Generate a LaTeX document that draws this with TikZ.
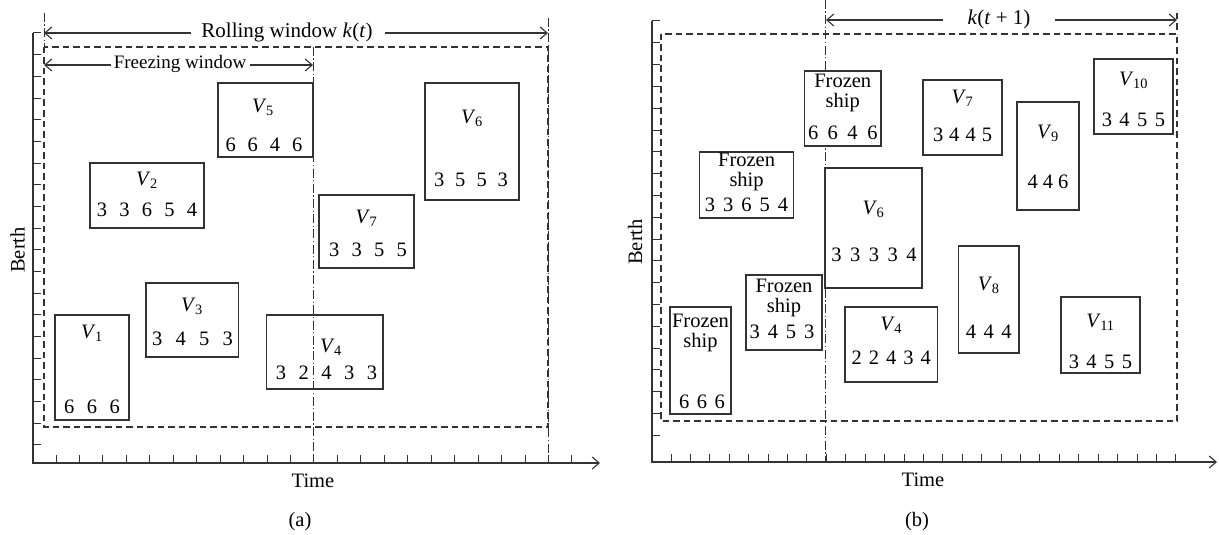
\documentclass[tikz,border=0pt]{standalone}
\usepackage{fontspec}
\setmainfont{Liberation Serif}
\usetikzlibrary{arrows.meta,fit}
\newcommand\Vs[1]{\textit{V}\kern-0.5pt\textsubscript{#1}}
\newcommand\nums[2]{{\spaceskip=#1pt\relax #2}}
\tikzset{
  ln/.style={draw=black!80, line width=1.1pt},
  tick/.style={draw=black!80, line width=1pt},
  shipbox/.style={draw=black!80, line width=1.2pt, fill=white, inner sep=0pt},
  txt/.style={inner sep=0pt, text=black, font=\fontsize{20.5}{21}\selectfont},
  smalltxt/.style={inner sep=0pt, text=black, font=\fontsize{19}{20}\selectfont},
  bigtxt/.style={inner sep=0pt, text=black, font=\fontsize{21}{22}\selectfont},
  twoline/.style={inner sep=0pt, text=black, align=center, font=\fontsize{20.5}{20}\selectfont},
  dashedln/.style={draw=black!80, line width=1.1pt, dash pattern=on 6.5pt off 4pt},
  dashdot/.style={draw=black!80, line width=1pt, dash pattern=on 9pt off 2.5pt on 1.2pt off 2.5pt},
  tip/.style={-{Straight Barb[length=7pt,width=12pt]}},
}
\begin{document}
\begin{tikzpicture}[x=1pt,y=-1pt]
\useasboundingbox (0,0) rectangle (1219,535);

% ================= panel (a) =================
\coordinate (Ltop) at (33,33);
\coordinate (Lorig) at (33,463);
\coordinate (Lxend) at (600,463);
\foreach \i in {0,...,19} \draw[tick] (33,{33+\i*21.68}) -- ++(8,0);
\foreach \i in {0,...,22} \draw[tick] ({56+\i*23.45},463) -- ++(0,-8);
\draw[ln,tip] (Ltop) -- (Lorig) -- (Lxend);

\draw[dashedln] (44,47) rectangle (548,427);
\coordinate (LdA) at (44,13);
\coordinate (LdB) at (44,47);
\draw[dashdot] (LdA) -- (LdB);
\coordinate (LrA) at (548,18);
\coordinate (LrB) at (548,463);
\draw[dashdot] (LrA) -- (LrB);

% ships (a)
\node[shipbox, fit={(218,83) (313,157)}] (a5) {};
\node[txt] (a5l) at (263,107) {\Vs{5}};
\node[txt] (a5n) at (264,145) {\nums{12}{6 6 4 6}};

\node[shipbox, fit={(425,83) (519,200)}] (a6) {};
\node[txt] (a6l) at (472,118) {\Vs{6}};
\node[txt] (a6n) at (471,180) {\nums{11}{3 5 5 3}};

\node[shipbox, fit={(90,163) (204,228)}] (a2) {};
\node[txt] (a2l) at (147,180) {\Vs{2}};
\node[txt] (a2n) at (147,210) {\nums{12.3}{3 3 6 5 4}};

\node[shipbox, fit={(319,195) (414,268)}] (a7) {};
\node[txt] (a7l) at (366.5,218) {\Vs{7}};
\node[txt] (a7n) at (368,250) {\nums{12.3}{3 3 5 5}};

\node[shipbox, fit={(146,283) (238.5,357)}] (a3) {};
\node[txt] (a3l) at (192,306) {\Vs{3}};
\node[txt] (a3n) at (192.5,339) {\nums{13.3}{3 4 5 3}};

\node[shipbox, fit={(55,315) (129,420)}] (a1) {};
\node[txt] (a1l) at (92,333) {\Vs{1}};
\node[txt] (a1n) at (92,407) {\nums{12.5}{6 6 6}};

\node[shipbox, fit={(266.5,315) (383,389)}] (a4) {};
\node[txt] (a4l) at (331,347) {\Vs{4}};
\node[txt] (a4n) at (326.5,373) {\nums{12.5}{3 2 4 3 3}};

\coordinate (LfA) at (313,47);
\coordinate (LfB) at (313,463);
\draw[dashdot] (LfA) -- (LfB);

% windows (a)
\node[bigtxt] (roll) at (287,32) {Rolling window \textit{k}(\textit{t})};
\coordinate (rollL) at (44,33);
\coordinate (rollLa) at (191,33);
\coordinate (rollR) at (548,33);
\coordinate (rollRa) at (385,33);
\draw[ln,tip] (rollLa) -- (rollL);
\draw[ln,tip] (rollRa) -- (rollR);

\node[smalltxt] (freeze) at (180,64) {Freezing window};
\coordinate (frL) at (44,65);
\coordinate (frLa) at (111,65);
\coordinate (frR) at (313,65);
\coordinate (frRa) at (250,65);
\draw[ln,tip] (frLa) -- (frL);
\draw[ln,tip] (frRa) -- (frR);

\node[txt] (timeA) at (313,481) {Time};
\node[txt, rotate=90] (berthA) at (17.5,250) {Berth};
\node[txt] (capA) at (300,522) {(a)};

% ================= panel (b) =================
\coordinate (Rtop) at (652,21);
\coordinate (Rorig) at (652,462);
\coordinate (Rxend) at (1217,462);
\foreach \i in {0,...,19} \draw[tick] (652,{21+\i*21.8}) -- ++(8,0);
\foreach \i in {0,...,26} \draw[tick] ({671+\i*19.42},462) -- ++(0,-8);
\draw[ln,tip] (Rtop) -- (Rorig) -- (Rxend);

\draw[dashedln] (661,34) rectangle (1177,421);
\coordinate (RdA) at (1177,13);
\coordinate (RdB) at (1177,34);
\draw[dashedln] (RdA) -- (RdB);
\coordinate (RfA) at (825.5,0);
\coordinate (RfB) at (825.5,462);
\draw[dashdot] (RfA) -- (RfB);

\node[shipbox, fit={(804.5,71) (881,146)}] (b1) {};
\node[twoline] (b1l) at (842.75,93) {Frozen\\ship};
\node[txt] (b1n) at (842.75,133) {\nums{9.5}{6 6 4 6}};

\node[shipbox, fit={(923,80) (1002,155)}] (b7) {};
\node[txt] (b7l) at (962.5,98) {\Vs{7}};
\node[txt] (b7n) at (962.5,135) {\nums{6}{3 4 4 5}};

\node[shipbox, fit={(1017,102) (1079,210)}] (b9) {};
\node[txt] (b9l) at (1048,133) {\Vs{9}};
\node[txt] (b9n) at (1048,182) {\nums{5}{4 4 6}};

\node[shipbox, fit={(1094,59) (1173,134)}] (b10) {};
\node[txt] (b10l) at (1133.5,80) {\Vs{10}};
\node[txt] (b10n) at (1133.5,120) {\nums{7.5}{3 4 5 5}};

\node[shipbox, fit={(699.5,152) (793.7,218)}] (b2) {};
\node[twoline] (b2l) at (746.6,172) {Frozen\\ship};
\node[txt] (b2n) at (746.6,205) {\nums{8}{3 3 6 5 4}};

\node[shipbox, fit={(825,168) (922,288)}] (b6) {};
\node[txt] (b6l) at (873.5,209) {\Vs{6}};
\node[txt] (b6n) at (874,255) {\nums{8.5}{3 3 3 3 4}};

\node[shipbox, fit={(958.6,246) (1019,353)}] (b8) {};
\node[txt] (b8l) at (988.8,285) {\Vs{8}};
\node[txt] (b8n) at (988.8,332) {\nums{7.5}{4 4 4}};

\node[shipbox, fit={(1061,297) (1140,373)}] (b11) {};
\node[txt] (b11l) at (1100.5,322) {\Vs{11}};
\node[txt] (b11n) at (1100.5,362) {\nums{7.5}{3 4 5 5}};

\node[shipbox, fit={(746,275) (822,350)}] (b3) {};
\node[twoline] (b3l) at (784,298) {Frozen\\ship};
\node[txt] (b3n) at (782,332) {\nums{8}{3 4 5 3}};

\node[shipbox, fit={(845,307) (937.6,382)}] (b4) {};
\node[txt] (b4l) at (891.3,325) {\Vs{4}};
\node[txt] (b4n) at (891.3,358) {\nums{7}{2 2 4 3 4}};

\node[shipbox, fit={(670,307) (731,414)}] (b5) {};
\node[twoline] (b5l) at (700.5,333) {Frozen\\ship};
\node[txt] (b5n) at (702,402) {\nums{7.5}{6 6 6}};

% window (b)
\node[bigtxt] (kt1) at (999,19) {\textit{k}(\textit{t} + 1)};
\coordinate (kL) at (826,20);
\coordinate (kLa) at (943,20);
\coordinate (kR) at (1177,20);
\coordinate (kRa) at (1055,20);
\draw[ln,tip] (kLa) -- (kL);
\draw[ln,tip] (kRa) -- (kR);

\node[txt] (timeB) at (923,480) {Time};
\node[txt, rotate=90] (berthB) at (635,242) {Berth};
\node[txt] (capB) at (917,522) {(b)};
\end{tikzpicture}
\end{document}
